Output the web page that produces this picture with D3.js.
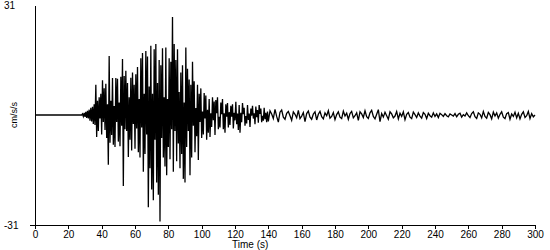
<!DOCTYPE html>
<html>
<head>
<meta charset="utf-8">
<script src="https://cdn.jsdelivr.net/npm/d3@7"></script>
<style>
  body { margin: 0; background: #fff; }
  svg { display: block; font-family: "Liberation Sans", Arial, sans-serif; }
</style>
</head>
<body>
<div id="main_chart"></div>
<script>
// pre-event (flat) part of the record
const preEventTimes = [0];
const preEventValues = [0];

// strong motion, sampled every 0.5 s from 28 s (cm/s/s)
const strongStart = 28;
const strongStep = 0.5;
const strongValues = [
  0, 0.3, -0.4, 0.6, -0.5, 0.9, -0.8, 1.2, -1.0, 1.5,
  -1.6, 2.0, -1.8, 2.3, -2.5, 3.0, -2.8, 8.5, -6.2, 4.0,
  -4.5, 5.0, -1.0, 6.0, -5.5, 9.8, -2.0, 7.5, -4.2, 8.8,
  -6.5, 3.0, -14.0, 16.6, -7.8, 4.0, -5.6, 10.4, -8.4, 2.5,
  -9.0, 10.4, -2.0, 10.2, -7.5, 3.5, -8.8, 10.8, -3.0, 15.8,
  -20.0, 11.0, -4.0, 12.5, -4.5, 9.0, -11.8, 5.0, -7.0, 10.5,
  -10.0, 12.0, -2.5, 8.5, -9.5, 11.5, -3.8, 13.5, -10.5, 4.5,
  -12.0, 16.0, -3.5, 17.5, -16.0, 6.0, -11.0, 18.0, -5.5, 16.5,
  -26.0, 8.0, -15.0, 19.5, -21.0, 6.0, -24.0, 18.5, -7.0, 20.0,
  -19.0, 9.0, -22.5, 15.5, -30.0, 14.0, -6.5, 18.8, -12.0, 5.0,
  -14.5, 19.0, -17.0, 4.5, -9.0, 16.0, -12.5, 15.0, -4.0, 27.6,
  -16.0, 20.0, -4.5, 15.5, -13.0, 18.5, -8.0, 6.5, -15.0, 12.0,
  -11.0, 14.0, -18.0, 3.5, -19.0, 19.0, -9.0, 13.0, -4.5, 10.0,
  -17.0, 8.5, -12.0, 15.0, -3.0, 9.5, -10.5, 2.0, -6.0, 8.5,
  -12.7, 6.0, -2.0, 7.5, -6.5, 1.0, -5.5, 6.2, -1.0, 5.5,
  -7.0, 1.5, -5.0, 4.5, -6.2, 0.5, -3.4, 5.0, -1.5, 3.8,
  -5.6, 4.2, 0.5, 5.0, -4.0, -0.5, -3.5, 3.5, 0.2, 4.5,
  -4.0, 0.5, -5.0, 3.0, -0.5, 3.4, -3.5, 0.8, -2.8, 2.6,
  -0.5, 3.0, -3.8, 0.6, -1.5, 3.7, -2.6, 0.4, -4.2, 2.8,
  -5.0, 0.6, -2.0, 3.4, 0.2, 2.0, -3.0, -0.3, -2.4, 2.8,
  -1.4, 0.4, -3.4, 1.8, -0.2, 2.6, -1.0, 0.5, -2.6, 2.4,
  -0.6, 1.4, -2.2, 2.8, 0.3, 1.8, -2.0, -0.2, -1.6, 2.0,
  -1.2, 0.6, -2.0, 1.0
];

// coda, sampled every 1 s from 140 s
const codaStart = 140;
const codaStep = 1;
const codaValues = [
  -1.8, 1.2, 0.3, -1.0, 1.6, -0.4, -2.0, 0.8, 1.4, -0.6,
  -1.2, 0.5, 1.0, -0.2, -1.5, 0.9, 0.2, -0.8, 1.3, -1.0,
  -0.3, 0.7, -1.9, 0.4, 1.1, -0.6, -1.2, 0.3, 0.9, -1.4,
  0.2, 1.0, -0.5, -1.1, 0.6, -0.2, 1.2, -0.9, -0.4, 0.7,
  -1.3, 0.1, 0.9, -0.6, -1.0, 1.1, -0.3, 0.5, -1.2, 0.4,
  1.0, -0.8, -0.2, 0.6, -1.5, 0.9, 0.3, -0.7, 1.2, -0.5,
  -1.0, 0.6, 1.3, -0.4, -1.1, 0.2, 1.5, -1.9, 0.4, -0.6,
  0.8, -0.2, -1.2, 0.9, 0.3, -0.8, -0.3, 1.0, -1.1, 0.5,
  -0.4, 0.9, -1.3, 0.2, 0.7, -0.6, -1.0, 0.8, 0.1, -0.7,
  0.6, -0.3, -0.9, 0.7, 0.2, -1.0, 0.5, -0.2, -0.6, 0.6,
  -0.4, 0.3, -0.7, 0.5, 0.1, -0.4, 0.4, -0.2, -0.5, 0.3,
  0.0, -0.3, 0.4, -0.5, 0.2, 0.5, -0.6, 0.1, -0.3, 0.6,
  -0.2, -0.7, 0.4, 0.9, -0.5, -1.0, 0.6, 0.2, -0.8, 1.0,
  -0.4, -0.9, 0.7, 0.1, -1.1, 0.8, -0.3, 0.6, -0.9, 0.2,
  0.9, -0.6, -1.0, 0.4, 0.7, -1.2, 0.3, -0.4, 0.8, -0.8,
  0.5, -1.1, 0.2, 0.9, -0.7, -0.2, 1.0, -1.0, 0.4, -0.5,
  0.0
];

const xTicks = d3.range(0, 301, 20);
const yLabels = [31, -31];
const xTitle = "Time (s)";
const yTitle = "cm/s/s";

const width = 550;
const height = 250;
const marginTop = 5;
const marginRight = 15;
const marginBottom = 25;
const marginLeft = 35;

const data = [
  ...preEventTimes.map((t, i) => ({ t, v: preEventValues[i] })),
  ...strongValues.map((v, i) => ({ t: strongStart + i * strongStep, v })),
  ...codaValues.map((v, i) => ({ t: codaStart + i * codaStep, v }))
];

const xScale = d3.scaleLinear()
  .domain([0, 300])
  .range([marginLeft, width - marginRight]);

const yScale = d3.scaleLinear()
  .domain([-31, 31])
  .range([height - marginBottom, marginTop]);

const line = d3.line()
  .x((p) => xScale(p.t))
  .y((p) => yScale(p.v));

const svg = d3.create("svg").attr("width", width).attr("height", height);

// trace
svg.append("path")
  .attr("fill", "none")
  .attr("stroke", "#000")
  .attr("stroke-width", 1.3)
  .attr("stroke-linejoin", "miter")
  .attr("d", line(data));

// x axis
const xAxis = svg.append("g")
  .attr("transform", `translate(0,${height - marginBottom})`)
  .call(d3.axisBottom(xScale).tickValues(xTicks).tickSize(4).tickSizeOuter(0).tickPadding(2))
  .call((g) => g.select(".domain").remove());

xAxis.append("line")
  .attr("x1", marginLeft - 5)
  .attr("x2", xScale(300))
  .attr("stroke", "#000")
  .attr("shape-rendering", "crispEdges");

xAxis.selectAll(".tick line").attr("shape-rendering", "crispEdges");
xAxis.selectAll("text")
  .attr("fill", "#000")
  .style("font-size", "10px")
  .style("font-family", "'Liberation Sans', Arial, sans-serif");

// y axis
svg.append("g")
  .attr("transform", `translate(${marginLeft},0)`)
  .call(d3.axisLeft(yScale).tickValues([]).tickSizeOuter(0))
  .call((g) => g.select(".domain").attr("shape-rendering", "crispEdges"));

svg.selectAll(".ylab")
  .data(yLabels)
  .join("text")
  .attr("class", "ylab")
  .attr("x", 4)
  .attr("y", (d) => yScale(d) + 4)
  .attr("font-size", 10)
  .text((d) => d);

svg.append("text")
  .attr("x", 232)
  .attr("y", height - 2)
  .attr("font-size", 10)
  .text(xTitle);

svg.append("text")
  .attr("transform", `translate(17,${yScale(0)}) rotate(-90)`)
  .attr("text-anchor", "middle")
  .attr("font-size", 9)
  .text(yTitle);

document.getElementById("main_chart").append(svg.node());
</script>
</body>
</html>
